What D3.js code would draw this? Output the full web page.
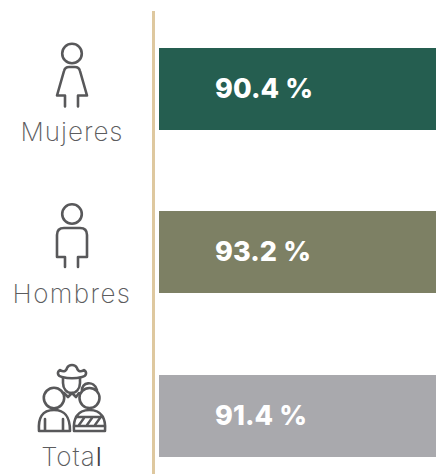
<!DOCTYPE html>
<html><head><meta charset="utf-8">
<script src="https://cdnjs.cloudflare.com/ajax/libs/d3/7.8.5/d3.min.js"></script>
<style>html,body{margin:0;padding:0;background:#fff;overflow:hidden}svg{display:block}</style>
</head><body><svg id="c" width="436" height="474"></svg>
<script>
const categories = ["Mujeres","Hombres","Total"];
const values = [90.4,93.2,91.4];
const valueLabels = ["90.4 %","93.2 %","91.4 %"];
const colors = ["#255e50","#7d8064","#a9a9ad"];
const svg = d3.select("#c");
const x = d3.scaleLinear().domain([0,90]).range([159,436]);
const y = d3.scaleBand().domain(categories).range([48,457]).paddingInner(0.5).paddingOuter(0);
const barTop = c => Math.floor(y(c));
const ink = "#58585a";
svg.append("line").attr("x1",153.5).attr("x2",153.5).attr("y1",11).attr("y2",474).attr("stroke","#dec89f").attr("stroke-width",3);
svg.selectAll("rect.bar").data(values).join("rect").attr("class","bar")
 .attr("x",x(0)).attr("y",(d,i)=>barTop(categories[i])).attr("height",82)
 .attr("width",d=>x(d)-x(0)).attr("fill",(d,i)=>colors[i]);
svg.selectAll("text.val").data(valueLabels).join("text").attr("class","val")
 .attr("x",215).attr("y",(d,i)=>barTop(categories[i])+50)
 .attr("font-family","Inter").attr("font-weight",800).attr("font-size",27).attr("letter-spacing",0.1).attr("fill","#fff").text(d=>d);
const labelY=[141,303,466];
const catSpacing=[1,1.4,1];
const cat = svg.selectAll("text.cat").data(categories).join("text").attr("class","cat")
 .attr("x",72).attr("y",(d,i)=>labelY[i]).attr("text-anchor","middle")
 .attr("font-family","Inter").attr("font-weight",200).attr("font-size",26).attr("letter-spacing",(d,i)=>catSpacing[i]).attr("fill","#5c5c5e");
cat.each(function(d){
  const t=d3.select(this);
  if(d==="Total"){ t.append("tspan").text("Tota"); t.append("tspan").attr("fill","#3c3c3e").attr("font-weight",300).text("l"); }
  else t.text(d);
});
const g = svg.append("g").attr("fill","none").attr("stroke",ink).attr("stroke-width",2.6).attr("stroke-linejoin","round").attr("stroke-linecap","round");
// Mujeres icon
g.append("circle").attr("cx",72).attr("cy",53.5).attr("r",9.8);
g.append("path").attr("d","M65 106.5V95.5H57L64 71Q65 67 69 67H75Q79 67 80 71L87 95.5H78V106.5");
// Hombres icon
g.append("circle").attr("cx",72).attr("cy",214).attr("r",9.8);
g.append("path").attr("d","M65 267V257H57V235Q57 228 64 228H80Q87 228 87 235V257H78V267");
// Total icon
g.append("path").attr("d","M62 377C57 376 57 372 60 370C63 372 66 372 67 368C69 364 75 364 77 368C78 372 81 372 84 370C87 372 87 376 82 377C76 378.5 68 378.5 62 377Z");
g.append("path").attr("d","M63 378V383C63 389 67 393 71.5 393C76 393 80 389 80 383V378");
g.append("path").attr("d","M64 393L68 397L72 393M72 393L76 397L79 393");
g.append("circle").attr("cx",54).attr("cy",398).attr("r",10.2);
g.append("path").attr("d","M39 431C38 418 42 410 54 410C66 410 70 418 70 431ZM45 431V419M63 431V419");
g.append("circle").attr("cx",89.5).attr("cy",398).attr("r",10);
g.append("path").attr("d","M82 391C81 382 94 380 97 390");
g.append("path").attr("d","M74 431C73 419 77 410 89.5 410C102 410 106 419 105 431ZM76 417H103M74 426H105");
g.append("path").attr("stroke-width",2.4).attr("d","M79 425L84 418M87 425L92 418M95 425L100 418");
</script></body></html>
